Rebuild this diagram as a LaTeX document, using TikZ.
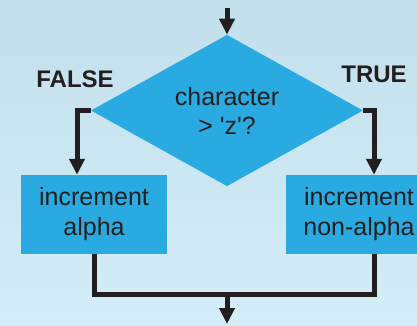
\documentclass[tikz,border=0pt]{standalone}
\usepackage{fontspec}
\setmainfont{Liberation Sans}
\usetikzlibrary{arrows.meta,shapes.geometric}
\definecolor{bgtop}{HTML}{C2DFEB}
\definecolor{bgbot}{HTML}{D4EEF9}
\definecolor{cyanfill}{HTML}{29ABE2}
\definecolor{ink}{HTML}{231F20}
\tikzset{
  conn/.style={draw=ink, line width=5pt},
  arr/.style={conn, -{Triangle[width=15pt,length=16pt]}},
  procbox/.style={rectangle, fill=cyanfill, minimum width=146pt, minimum height=79pt, inner sep=0pt, align=center, text=ink, font=\fontsize{25}{30}\selectfont},
  decision/.style={diamond, fill=cyanfill, minimum width=272pt, minimum height=143pt, inner sep=0pt, align=center, text=ink, font=\fontsize{25}{30}\selectfont},
  branchlabel/.style={text=ink, font=\fontsize{24}{28}\selectfont\bfseries}
}
\begin{document}
\begin{tikzpicture}[x=1pt,y=-1pt]
\useasboundingbox (0,0) rectangle (417,325);
\clip (0,0) rectangle (417,325);
\shade[top color=bgtop, bottom color=bgbot] (0,0) rectangle (417,325);

\node[decision] (dia) at (227,110.5) {character\\[-1pt]> \textquotesingle z\textquotesingle ?};
\node[procbox] (lbox) at (94,214.5) {increment\\alpha};
\node[procbox] (rbox) at (359,214.5) {increment\\non-alpha};

\node[branchlabel] (false) at (75,79) {FALSE};
\node[branchlabel] (true) at (374,74) {TRUE};

\coordinate (start) at (227,8);
\coordinate (merge) at (227,294.5);
\coordinate (finish) at (227,324);

\draw[arr] (start) -- (dia.north);
\draw[arr] (dia.west) -| ([xshift=-17pt]lbox.north);
\draw[arr] (dia.east) -| ([xshift=15pt]rbox.north);
\draw[conn] (lbox.south) |- (merge) -| ([xshift=15pt]rbox.south);
\draw[arr] (merge) -- (finish);
\end{tikzpicture}
\end{document}
